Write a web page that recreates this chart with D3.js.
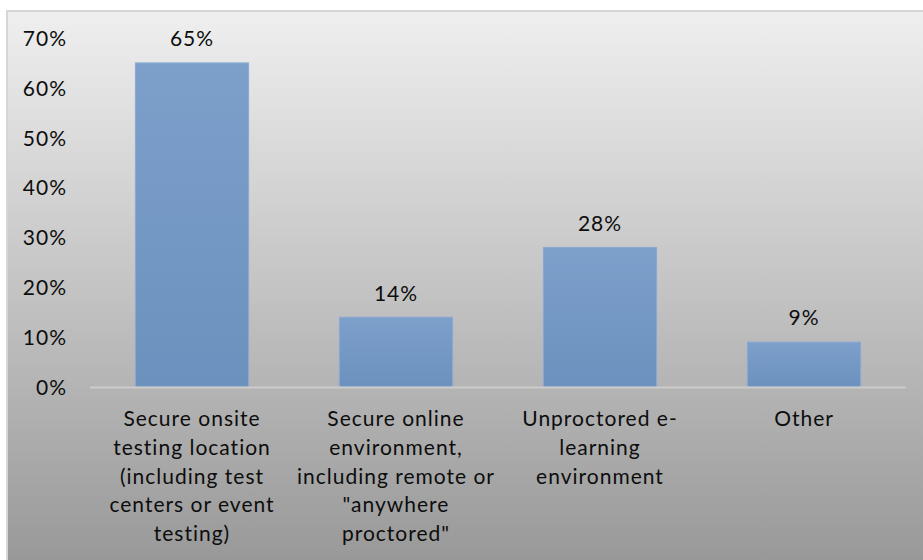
<!DOCTYPE html>
<html>
<head>
<meta charset="utf-8">
<script src="https://cdn.jsdelivr.net/npm/d3@7"></script>
<style>
  html, body { margin: 0; padding: 0; background: #ffffff; }
  svg { display: block; }
  text { font-family: Lato, "Liberation Sans", sans-serif; fill: #0d0d0d; letter-spacing: 1px; }
</style>
</head>
<body>
<svg id="chart" width="923" height="560"></svg>
<script>
// Test delivery locations (share of respondents)
const categories = [
  ["Secure onsite", "testing location", "(including test", "centers or event", "testing)"],
  ["Secure online", "environment,", "including remote or", "\"anywhere", "proctored\""],
  ["Unproctored e-", "learning", "environment"],
  ["Other"]
];
const values = [65, 14, 28, 9];
const yTicks = [0, 10, 20, 30, 40, 50, 60, 70];

const svg = d3.select("#chart");
const W = 923, H = 560;
const FS = "21px";

const defs = svg.append("defs");
const bg = defs.append("linearGradient")
  .attr("id", "bgGrad").attr("x1", 0).attr("y1", 0).attr("x2", 0).attr("y2", 1);
bg.append("stop").attr("offset", "0%").attr("stop-color", "#efefef");
bg.append("stop").attr("offset", "100%").attr("stop-color", "#949494");

const barGrad = defs.append("linearGradient")
  .attr("id", "barGrad").attr("x1", 0).attr("y1", 0).attr("x2", 0).attr("y2", 1);
barGrad.append("stop").attr("offset", "0%").attr("stop-color", "#7ca0ca");
barGrad.append("stop").attr("offset", "100%").attr("stop-color", "#6c91be");

// chart frame with vertical gradient fill
svg.append("rect")
  .attr("x", 7).attr("y", 11)
  .attr("width", W + 20).attr("height", H + 20)
  .attr("fill", "url(#bgGrad)")
  .attr("stroke", "#d6d6d6").attr("stroke-width", 2);

const x = d3.scaleBand()
  .domain(d3.range(categories.length))
  .range([90, 906])
  .paddingInner(0.445)
  .paddingOuter(0.2225);

const y = d3.scaleLinear().domain([0, 70]).range([387, 38]);

// y-axis labels
const yAxis = d3.axisLeft(y)
  .tickValues(yTicks)
  .tickFormat(d => d + "%")
  .tickSize(0)
  .tickPadding(0);
const gy = svg.append("g").attr("transform", "translate(67,0)").call(yAxis);
gy.select(".domain").remove();
gy.selectAll("text")
  .attr("font-size", FS)
  .attr("font-family", null)
  .attr("fill", "#0d0d0d")
  .attr("dy", "0.35em");

// bars
svg.append("g").selectAll("rect")
  .data(values)
  .join("rect")
  .attr("x", (d, i) => x(i))
  .attr("y", d => y(d))
  .attr("width", x.bandwidth())
  .attr("height", d => y(0) - y(d))
  .attr("fill", "url(#barGrad)")
  .attr("stroke", "#8aaad2")
  .attr("stroke-width", 1);

// category baseline
svg.append("line")
  .attr("x1", 90).attr("x2", 906)
  .attr("y1", y(0) + 0.5).attr("y2", y(0) + 0.5)
  .attr("stroke", "#cbcbcb").attr("stroke-width", 2);

// value labels
svg.append("g").selectAll("text")
  .data(values)
  .join("text")
  .attr("x", (d, i) => x(i) + x.bandwidth() / 2)
  .attr("y", d => y(d) - 24)
  .attr("dy", "0.35em")
  .attr("text-anchor", "middle")
  .attr("font-size", FS)
  .text(d => d + "%");

// category labels (pre-wrapped lines)
const cat = svg.append("g").selectAll("text")
  .data(categories)
  .join("text")
  .attr("text-anchor", "middle")
  .attr("font-size", FS)
  .attr("x", (d, i) => x(i) + x.bandwidth() / 2)
  .attr("y", 419);
cat.selectAll("tspan")
  .data(d => d)
  .join("tspan")
  .attr("x", function () { return this.parentNode.getAttribute("x"); })
  .attr("y", (d, j) => 419 + j * 28.7)
  .attr("dy", "0.35em")
  .text(d => d);
</script>
</body>
</html>
